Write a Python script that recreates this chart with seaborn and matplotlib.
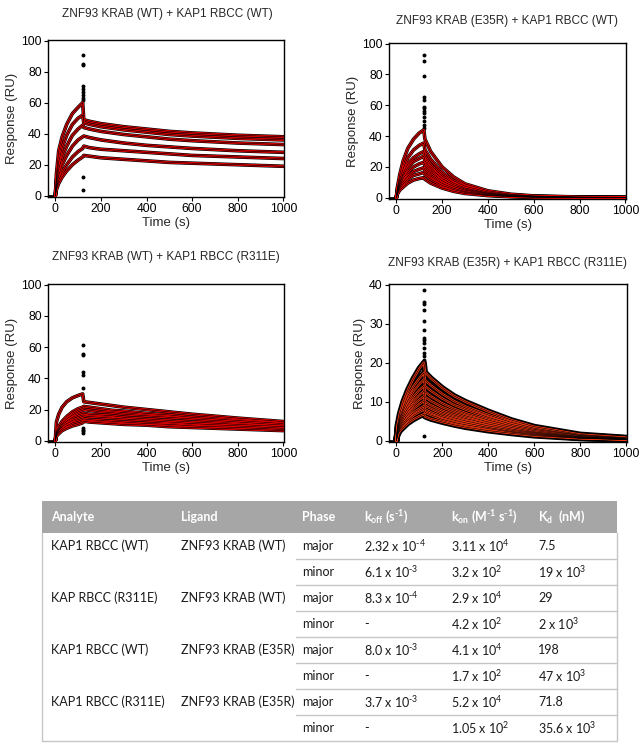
import numpy as np
import pandas as pd
import seaborn as sns
import matplotlib.pyplot as plt
from matplotlib.patches import Rectangle

sns.set_style('ticks')
plt.rcParams['font.family'] = ['Liberation Sans', 'DejaVu Sans']
plt.rcParams['mathtext.fontset'] = 'custom'

# Time grids (s)
t_base = [-30, 0]
t_assoc = [0, 5, 15, 30, 50, 75, 100, 120]
t_dissoc = [125, 150, 200, 250, 300, 400, 500, 600, 800, 1000]

# ZNF93 KRAB (WT) + KAP1 RBCC (WT)
wt_wt_assoc = [
    [0, 14, 29, 38, 46, 53, 57, 60],
    [0, 10, 22, 31, 39, 46, 50, 52],
    [0, 8, 17, 25, 32, 39, 43, 45.5],
    [0, 6, 13, 20, 26, 32, 36, 38],
    [0, 5, 10, 15, 20, 25, 28.5, 30.5],
    [0, 4, 8, 12, 16, 20, 23, 25],
]
wt_wt_dissoc = [
    [49, 48, 46.5, 45.5, 44.5, 43, 41.5, 40.5, 39, 38],
    [47, 46, 44.5, 43.5, 42.5, 41, 39.5, 38.5, 37, 36],
    [44, 43, 41.5, 40.5, 39.5, 38, 36.5, 35.5, 34, 33],
    [38.5, 37.5, 36, 35, 34, 32.5, 31.5, 30.5, 29, 28],
    [32, 31, 30, 29.5, 29, 28, 27, 26, 25, 24],
    [26, 25.5, 24.5, 24, 23.5, 22.5, 21.5, 21, 20, 19],
]
wt_wt_spikes = [91, 85, 84, 71, 69, 67, 65, 63, 62, 12, 4]

# ZNF93 KRAB (E35R) + KAP1 RBCC (WT)
e35r_wt_assoc = [
    [0, 7, 15, 24, 32, 38, 42, 44],
    [0, 6, 12, 19, 26, 31, 34, 35.5],
    [0, 5, 10, 16, 22, 26, 28.5, 30],
    [0, 4.5, 9, 14.5, 19.5, 23.5, 25.5, 27],
    [0, 4, 8, 12.5, 16.5, 20, 22, 23],
    [0, 3.5, 7, 10.5, 14, 17, 18.5, 19.5],
    [0, 3, 6, 9, 12, 14.5, 15.5, 16.5],
    [0, 2.5, 5, 7, 9.5, 11.5, 12.5, 13],
]
e35r_wt_dissoc = [
    [38, 30, 20, 13.5, 9, 4.5, 2.3, 1.2, 0.5, 0.3],
    [31, 25, 16.5, 11, 7.5, 3.7, 1.9, 1, 0.4, 0.2],
    [27, 21.5, 14, 9.5, 6.3, 3.1, 1.6, 0.8, 0.3, 0.2],
    [24, 19, 12.5, 8.4, 5.6, 2.8, 1.4, 0.7, 0.3, 0.1],
    [21, 16.5, 11, 7.3, 4.9, 2.4, 1.2, 0.6, 0.2, 0.1],
    [18, 14, 9.3, 6.2, 4.1, 2, 1, 0.5, 0.2, 0.1],
    [15, 12, 8, 5.3, 3.5, 1.7, 0.9, 0.4, 0.2, 0.1],
    [12, 9.5, 6.3, 4.2, 2.8, 1.4, 0.7, 0.3, 0.1, 0.1],
]
e35r_wt_spikes = [92.7, 88.5, 79.3, 65.5, 63.3, 59, 58, 56.3, 54.8, 52.7, 49.5, 47.3, 45.2]

# ZNF93 KRAB (WT) + KAP1 RBCC (R311E)
wt_r311e_assoc = [
    [0, 12, 17, 21.5, 25, 27.5, 29, 30],
    [0, 6, 9, 12.5, 15.5, 18.5, 20.5, 21.5],
    [0, 5, 8, 11, 14, 16.5, 18.5, 19.5],
    [0, 4.5, 7, 10, 12.5, 15, 16.5, 17.5],
    [0, 4, 6.5, 9, 11, 13, 14.5, 15.5],
    [0, 3.5, 5.5, 7.5, 9.5, 11.5, 12.5, 13.5],
    [0, 3, 4.5, 6.5, 8, 9.5, 10.5, 11.5],
]
wt_r311e_dissoc = [
    [25, 24.5, 23.5, 22.5, 21.5, 20, 18.5, 17, 14.5, 12.3],
    [22, 21.5, 20.5, 19.5, 19, 17.5, 16.5, 15, 13, 11],
    [20, 19.5, 18.5, 18, 17, 16, 15, 14, 12, 10],
    [17.5, 17, 16.5, 16, 15, 14, 13, 12, 10.5, 9],
    [16, 15.5, 15, 14.5, 14, 13, 12, 11, 9.5, 8],
    [14, 13.5, 13, 12.5, 12, 11, 10.5, 9.5, 8.5, 7.2],
    [12.5, 12, 11.5, 11, 10.5, 10, 9, 8.5, 7.5, 6.5],
]
wt_r311e_spikes = [61.6, 55.8, 54.8, 44, 42, 34, 8, 7, 6, 5]

# ZNF93 KRAB (E35R) + KAP1 RBCC (R311E)
e35r_r311e_assoc = [
    [0, 4, 7, 10, 13, 16, 18.5, 20],
    [0, 3.5, 6, 8.5, 11.5, 14, 16, 17.4],
    [0, 3, 5.5, 7.8, 10.3, 12.7, 14.5, 15.7],
    [0, 2.8, 5, 7, 9.2, 11.3, 13, 14],
    [0, 2.5, 4.5, 6.3, 8.3, 10.2, 11.7, 12.7],
    [0, 2.3, 4, 5.7, 7.5, 9.2, 10.5, 11.4],
    [0, 2, 3.6, 5.1, 6.7, 8.2, 9.4, 10.2],
    [0, 1.8, 3.2, 4.5, 5.9, 7.2, 8.2, 8.9],
    [0, 1.6, 2.9, 4, 5.3, 6.5, 7.4, 8],
    [0, 1.4, 2.5, 3.4, 4.5, 5.5, 6.3, 6.8],
]
e35r_r311e_dissoc = [
    [17.5, 16, 13.5, 11.5, 10, 7.5, 5.3, 3.6, 1.6, 0.8],
    [15.5, 14.2, 12, 10.2, 8.8, 6.6, 4.7, 3.2, 1.4, 0.7],
    [14, 12.8, 10.8, 9.2, 8, 6, 4.2, 2.9, 1.3, 0.6],
    [12.5, 11.4, 9.6, 8.2, 7.1, 5.3, 3.8, 2.6, 1.1, 0.5],
    [11.2, 10.2, 8.6, 7.4, 6.4, 4.8, 3.4, 2.3, 1, 0.5],
    [10, 9.1, 7.7, 6.6, 5.7, 4.3, 3, 2.1, 0.9, 0.4],
    [9, 8.2, 6.9, 5.9, 5.1, 3.8, 2.7, 1.9, 0.8, 0.4],
    [8, 7.3, 6.1, 5.3, 4.6, 3.4, 2.4, 1.7, 0.7, 0.3],
    [7.2, 6.6, 5.5, 4.7, 4.1, 3.1, 2.2, 1.5, 0.7, 0.3],
    [6.2, 5.6, 4.8, 4.1, 3.5, 2.6, 1.9, 1.3, 0.6, 0.3],
]
e35r_r311e_spikes = [38.6, 35.6, 35.1, 33.5, 30.8, 28.4, 26.3, 25.8, 25, 23.7, 22.5, 21.6, 20.6, 1.1]

titles = ['ZNF93 KRAB (WT) + KAP1 RBCC (WT)', 'ZNF93 KRAB (E35R) + KAP1 RBCC (WT)',
          'ZNF93 KRAB (WT) + KAP1 RBCC (R311E)', 'ZNF93 KRAB (E35R) + KAP1 RBCC (R311E)']

# Table contents
col_headers = ['Analyte', 'Ligand', 'Phase', 'k$_{\\mathregular{off}}$ (s$^{\\mathregular{\u20101}}$)',
               'k$_{\\mathregular{on}}$ (M$^{\\mathregular{\u20101}}$ s$^{\\mathregular{\u20101}}$)',
               'K$_{\\mathregular{d}}$  (nM)']
analytes = ['KAP1 RBCC (WT)', 'KAP RBCC (R311E)', 'KAP1 RBCC (WT)', 'KAP1 RBCC (R311E)']
ligands = ['ZNF93 KRAB (WT)', 'ZNF93 KRAB (WT)', 'ZNF93 KRAB (E35R)', 'ZNF93 KRAB (E35R)']
phases = ['major', 'minor'] * 4
koff = ['2.32 x 10^-4', '6.1 x 10^-3', '8.3 x 10^-4', '-', '8.0 x 10^-3', '-', '3.7 x 10^-3', '-']
kon = ['3.11 x 10^4', '3.2 x 10^2', '2.9 x 10^4', '4.2 x 10^2', '4.1 x 10^4', '1.7 x 10^2',
       '5.2 x 10^4', '1.05 x 10^2']
kd = ['7.5', '19 x 10^3', '29', '2 x 10^3', '198', '47 x 10^3', '71.8', '35.6 x 10^3']


def curves_frame(assoc, dissoc):
    rows = []
    for i, (a, d) in enumerate(zip(assoc, dissoc)):
        for t, v in zip(t_assoc + t_dissoc, a + d):
            rows.append((i, t, v))
    return pd.DataFrame(rows, columns=['curve', 'time', 'response'])


def sci(s):
    # '2.32 x 10^-4' -> mathtext superscript, short hyphen as in the original
    if '^' not in s:
        return s
    base, exp = s.split('^')
    exp = exp.replace('-', '\u2010')
    return base + r'$^{\mathregular{' + exp + '}}$'


W, H = 643, 748
fig = plt.figure(figsize=(W / 100, H / 100), dpi=100)


def px_axes(left, top, right, bottom):
    return fig.add_axes([left / W, 1 - bottom / H, (right - left) / W, (bottom - top) / H])


panels = [
    (px_axes(48, 40, 284, 197), wt_wt_assoc, wt_wt_dissoc, wt_wt_spikes, 100, '#ff0000', (167, 14)),
    (px_axes(389, 43, 626, 199), e35r_wt_assoc, e35r_wt_dissoc, e35r_wt_spikes, 100, '#ff0000', (507, 21)),
    (px_axes(48, 284, 284, 442), wt_r311e_assoc, wt_r311e_dissoc, wt_r311e_spikes, 100, '#ff0000', (166, 257)),
    (px_axes(389, 284, 627, 442), e35r_r311e_assoc, e35r_r311e_dissoc, e35r_r311e_spikes, 40, '#ff3a10', (508, 263)),
]

for k, (ax, assoc, dissoc, spikes, ymax, red, tpos) in enumerate(panels):
    df = curves_frame(assoc, dissoc)
    black_lw = 4.2 if k == 3 else 2.6
    sns.lineplot(x=t_base, y=[0, 0], color='black', lw=2, ax=ax)
    sns.lineplot(data=df, x='time', y='response', units='curve', estimator=None,
                 color='black', lw=black_lw, ax=ax, legend=False)
    sns.lineplot(data=df, x='time', y='response', units='curve', estimator=None,
                 color=red, lw=1.6, ax=ax, legend=False)
    sns.lineplot(data=df, x='time', y='response', units='curve', estimator=None,
                 color='black', lw=0.45, ax=ax, legend=False)
    sns.scatterplot(x=[120] * len(spikes), y=spikes, color='black', s=8,
                    edgecolor=None, linewidth=0, ax=ax)
    ax.set_xlim(-32, 1003)
    ax.set_ylim(-ymax * 0.008, ymax * 1.004)
    ax.set_xticks([0, 200, 400, 600, 800, 1000])
    ax.set_yticks(np.arange(0, ymax + 1, 20 if ymax == 100 else 10))
    ax.set_xlabel('Time (s)', fontsize=9.5, labelpad=1)
    ax.set_ylabel('Response (RU)', fontsize=9.5, labelpad=2)
    ax.tick_params(labelsize=8.8, length=3, width=0.8, pad=1.5, colors='black')
    for sp in ax.spines.values():
        sp.set_visible(True)
        sp.set_linewidth(1.0)
        sp.set_color('black')
    fig.text(tpos[0] / W, 1 - tpos[1] / H, titles[k], fontsize=8.5, ha='center', va='center')

# Table
tab = fig.add_axes([0, 0, 1, 1])
tab.set_xlim(0, W)
tab.set_ylim(H, 0)
tab.axis('off')
tab.patch.set_alpha(0)

x0, x1 = 42, 617
head_top, head_bot = 501, 533
row_h = 26
line_col = '#c6c6c6'
tab.add_patch(Rectangle((x0, head_top), x1 - x0, head_bot - head_top, color='#a6a6a6', lw=0))
bottom = head_bot + row_h * len(phases)
tab.plot([x0, x0], [head_bot, bottom], color=line_col, lw=1)
tab.plot([x1, x1], [head_bot, bottom], color=line_col, lw=1)
tab.plot([x0, x1], [bottom, bottom], color=line_col, lw=1)
for i in range(1, len(phases)):
    y = head_bot + row_h * i
    tab.plot([296, x1], [y, y], color=line_col, lw=1)

col_x = [51, 181, 302, 364, 451, 538]
tfont = ['Lato', 'DejaVu Sans']
for cx, h in zip(col_x, col_headers):
    tab.text(cx, (head_top + head_bot) / 2, h, color='white', fontweight='bold',
             fontsize=9, family=tfont, ha='left', va='center')

txt_col = '#1a1a1a'
for i in range(len(phases)):
    yc = head_bot + row_h * i + row_h / 2
    if i % 2 == 0:
        tab.text(col_x[0], yc, analytes[i // 2], fontsize=9, family=tfont, color=txt_col, va='center')
        tab.text(col_x[1], yc, ligands[i // 2], fontsize=9, family=tfont, color=txt_col, va='center')
    tab.text(col_x[2], yc, phases[i], fontsize=9, family=tfont, color=txt_col, va='center')
    tab.text(col_x[3], yc, sci(koff[i]), fontsize=9, family=tfont, color=txt_col, va='center')
    tab.text(col_x[4], yc, sci(kon[i]), fontsize=9, family=tfont, color=txt_col, va='center')
    tab.text(col_x[5], yc, sci(kd[i]), fontsize=9, family=tfont, color=txt_col, va='center')

fig.savefig('out.png', dpi=100)
